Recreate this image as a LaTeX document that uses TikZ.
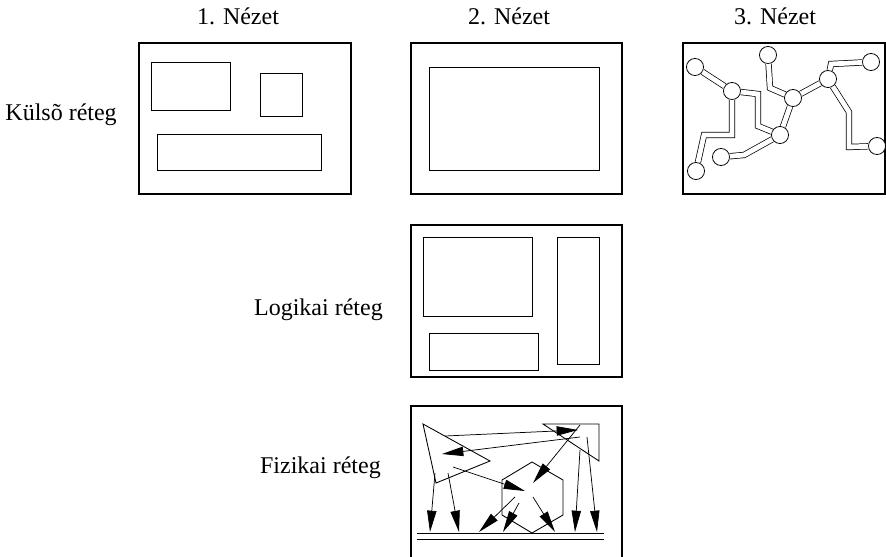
\documentclass[tikz,border=0pt]{standalone}
\usepackage{fontspec}
\setmainfont{Liberation Serif}
\usetikzlibrary{arrows.meta}
\tikzstyle{every picture}=[x=0.75pt,y=-0.75pt,line join=miter]
\tikzstyle{frame}=[line width=1.3pt]
\tikzstyle{part}=[line width=0.65pt]
\tikzstyle{site}=[circle,draw,fill=white,line width=0.6pt,minimum size=12.8pt,inner sep=0pt]
\tikzstyle{link}=[double,double distance=3.6pt,line width=0.55pt]
\tikzstyle{flow}=[line width=0.55pt,-{Triangle[length=16pt,width=7pt]}]
\tikzstyle{caption}=[font=\fontsize{18}{21}\selectfont,inner sep=0pt]

\begin{document}
\begin{tikzpicture}
    \useasboundingbox (0,0) rectangle (886,557);

    % nezetek es retegek
    \node[caption] (v1) at (238,16) {1. Nézet};
    \node[caption] (v2) at (509,16) {2. Nézet};
    \node[caption] (v3) at (775,16) {3. Nézet};
    \node[caption,anchor=east] (kulso) at (117,115) {Külsõ réteg};
    \node[caption,anchor=east] (logi) at (383,310) {Logikai réteg};
    \node[caption,anchor=east] (fizi) at (381,468) {Fizikai réteg};

    % kulso reteg, 1. nezet
    \draw[frame] (139,43) rectangle (351,194);
    \draw[part] (151,62) rectangle (230,110);
    \draw[part] (260,73) rectangle (302,116);
    \draw[part] (157,134) rectangle (321,170);

    % kulso reteg, 2. nezet
    \draw[frame] (411,43) rectangle (622,194);
    \draw[part] (429,67) rectangle (599,170);

    % kulso reteg, 3. nezet
    \draw[frame] (683,43) rectangle (885,194);
    \node[site] (n1) at (695,67) {};
    \node[site] (n2) at (732,91) {};
    \node[site] (n3) at (768,55) {};
    \node[site] (n4) at (793,98) {};
    \node[site] (n5) at (828,79) {};
    \node[site] (n6) at (871,62) {};
    \node[site] (n7) at (780,135) {};
    \node[site] (n8) at (721,157) {};
    \node[site] (n9) at (696,171) {};
    \node[site] (n10) at (877,146) {};
    \draw[link] (n1) -- (n2);
    \draw[link] (n2) -- (732,135) -- (704,135) -- (n9);
    \draw[link] (n2) -- (758,94) -- (758,126) -- (n7);
    \draw[link] (n3) -- (770,88) -- (n4);
    \draw[link] (n4) -- (n5);
    \draw[link] (n4) -- (n7);
    \draw[link] (n5) -- (831,64) -- (n6);
    \draw[link] (n5) -- (849,112) -- (849,147) -- (n10);
    \draw[link] (n7) -- (744,155) -- (n8);

    % logikai reteg
    \draw[frame] (411,225) rectangle (622,377);
    \draw[part] (423,237) rectangle (532,316);
    \draw[part] (429,333) rectangle (538,370);
    \draw[part] (557,237) rectangle (599,364);

    % fizikai reteg
    \draw[frame] (411,406) rectangle (622,562);
    \draw[part] (417,533) -- (604,533);
    \draw[part] (417,539) -- (604,539);
    \draw[part] (423,424) -- (490,461) -- (436,483) -- cycle;
    \draw[part] (543,424) -- (599,424) -- (599,461) -- cycle;
    \draw[part] (532,462) -- (563,480) -- (563,515) -- (532,533)
        -- (502,515) -- (502,480) -- cycle;
    \draw[flow] (445,436) -- (578,430);
    \draw[flow] (580,437) -- (442,454);
    \draw[flow] (580,425) -- (533,483);
    \draw[flow] (453,467) -- (525,491);
    \draw[flow] (435,473) -- (430,532);
    \draw[flow] (448,473) -- (459,532);
    \draw[flow] (515,497) -- (479,532);
    \draw[flow] (519,503) -- (503,532);
    \draw[flow] (533,497) -- (555,532);
    \draw[flow] (580,450) -- (575,532);
    \draw[flow] (587,437) -- (597,532);
\end{tikzpicture}
\end{document}
